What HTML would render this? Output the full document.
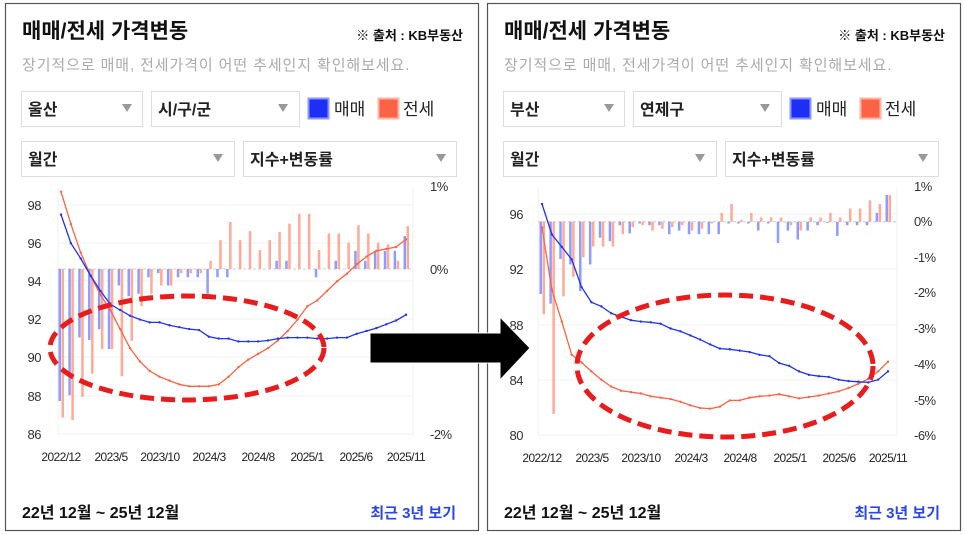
<!DOCTYPE html>
<html><head><meta charset="utf-8"><style>
html,body{margin:0;padding:0;background:#fff;width:965px;height:535px;overflow:hidden}
svg{display:block;font-family:"Liberation Sans","Noto Sans CJK KR",sans-serif}
</style></head><body>
<svg id="s" width="965" height="535" viewBox="0 0 965 535">
<rect x="0" y="0" width="965" height="535" fill="#fff"/>
<rect x="5.5" y="3.5" width="473" height="527" fill="#fff" stroke="#555" stroke-width="1.2"/>
<rect x="487.5" y="3.5" width="473" height="527" fill="#fff" stroke="#555" stroke-width="1.2"/>

<g id="p1">
<text x="22" y="38" font-size="21" font-weight="bold" fill="#111">매매/전세 가격변동</text>
<text x="463" y="40" font-size="13" font-weight="bold" fill="#111" text-anchor="end">※ 출처 : KB부동산</text>
<text x="22" y="70" font-size="15" fill="#aaa" letter-spacing="0.9">장기적으로 매매, 전세가격이 어떤 추세인지 확인해보세요.</text>
<rect x="21.5" y="91.5" width="121" height="35" fill="#fff" stroke="#ddd"/>
<text x="28" y="115" font-size="16" font-weight="bold" fill="#222">울산</text>
<path d="M122 104 L132 104 L127 112Z" fill="#999"/>
<rect x="151.5" y="91.5" width="148" height="35" fill="#fff" stroke="#ddd"/>
<text x="158" y="115" font-size="16" font-weight="bold" fill="#222">시/구/군</text>
<path d="M278 104 L288 104 L283 112Z" fill="#999"/>
<rect x="308.5" y="98.5" width="20" height="20" fill="#1d2ff5" stroke="#8a96ff" stroke-width="2"/>
<text x="334" y="115" font-size="17" fill="#222">매매</text>
<rect x="378.5" y="98.5" width="20" height="20" fill="#fa6344" stroke="#ffb4a5" stroke-width="2"/>
<text x="403" y="115" font-size="17" fill="#222">전세</text>
<rect x="21.5" y="141.5" width="213" height="35" fill="#fff" stroke="#ddd"/>
<text x="28" y="165" font-size="16" font-weight="bold" fill="#222">월간</text>
<path d="M213 154 L223 154 L218 162Z" fill="#999"/>
<rect x="243.5" y="141.5" width="213" height="35" fill="#fff" stroke="#ddd"/>
<text x="250" y="165" font-size="16" font-weight="bold" fill="#222">지수+변동률</text>
<path d="M436 154 L446 154 L441 162Z" fill="#999"/>
<g font-size="13" fill="#333" text-anchor="end" letter-spacing="-0.5">
<text x="41" y="210">98</text><text x="41" y="248">96</text><text x="41" y="286">94</text><text x="41" y="324">92</text><text x="41" y="362">90</text><text x="41" y="401">88</text><text x="41" y="439">86</text>
</g>
<g font-size="13" fill="#333" letter-spacing="-0.5">
<text x="430" y="191">1%</text><text x="430" y="274">0%</text><text x="430" y="439">-2%</text>
</g>
<g font-size="12" fill="#222" text-anchor="middle" letter-spacing="-0.6">
<text x="61" y="461">2022/12</text><text x="111" y="461">2023/5</text><text x="160" y="461">2023/10</text><text x="209" y="461">2024/3</text><text x="258" y="461">2024/8</text><text x="307" y="461">2025/1</text><text x="356" y="461">2025/6</text><text x="406" y="461">2025/11</text>
</g>
<text x="22" y="518" font-size="16" font-weight="bold" fill="#111">22년 12월 ~ 25년 12월</text>
<text x="456" y="518" font-size="15" font-weight="bold" fill="#2b46e6" text-anchor="end">최근 3년 보기</text>
</g>

<g id="p2">
<text x="504" y="38" font-size="21" font-weight="bold" fill="#111">매매/전세 가격변동</text>
<text x="945" y="40" font-size="13" font-weight="bold" fill="#111" text-anchor="end">※ 출처 : KB부동산</text>
<text x="504" y="70" font-size="15" fill="#aaa" letter-spacing="0.9">장기적으로 매매, 전세가격이 어떤 추세인지 확인해보세요.</text>
<rect x="503.5" y="91.5" width="121" height="35" fill="#fff" stroke="#ddd"/>
<text x="510" y="115" font-size="16" font-weight="bold" fill="#222">부산</text>
<path d="M604 104 L614 104 L609 112Z" fill="#999"/>
<rect x="633.5" y="91.5" width="148" height="35" fill="#fff" stroke="#ddd"/>
<text x="640" y="115" font-size="16" font-weight="bold" fill="#222">연제구</text>
<path d="M760 104 L770 104 L765 112Z" fill="#999"/>
<rect x="790.5" y="98.5" width="20" height="20" fill="#1d2ff5" stroke="#8a96ff" stroke-width="2"/>
<text x="816" y="115" font-size="17" fill="#222">매매</text>
<rect x="860.5" y="98.5" width="20" height="20" fill="#fa6344" stroke="#ffb4a5" stroke-width="2"/>
<text x="885" y="115" font-size="17" fill="#222">전세</text>
<rect x="503.5" y="141.5" width="213" height="35" fill="#fff" stroke="#ddd"/>
<text x="510" y="165" font-size="16" font-weight="bold" fill="#222">월간</text>
<path d="M695 154 L705 154 L700 162Z" fill="#999"/>
<rect x="725.5" y="141.5" width="213" height="35" fill="#fff" stroke="#ddd"/>
<text x="732" y="165" font-size="16" font-weight="bold" fill="#222">지수+변동률</text>
<path d="M918 154 L928 154 L923 162Z" fill="#999"/>
<g font-size="13" fill="#333" text-anchor="end" letter-spacing="-0.5">
<text x="523" y="219">96</text><text x="523" y="274">92</text><text x="523" y="330">88</text><text x="523" y="385">84</text><text x="523" y="440">80</text>
</g>
<g font-size="13" fill="#333" letter-spacing="-0.5">
<text x="914" y="191">1%</text><text x="914" y="226">0%</text><text x="914" y="262">-1%</text><text x="914" y="297">-2%</text><text x="914" y="333">-3%</text><text x="914" y="369">-4%</text><text x="914" y="405">-5%</text><text x="914" y="440">-6%</text>
</g>
<g font-size="12" fill="#222" text-anchor="middle" letter-spacing="-0.6">
<text x="542" y="462">2022/12</text><text x="592" y="462">2023/5</text><text x="641" y="462">2023/10</text><text x="691" y="462">2024/3</text><text x="740" y="462">2024/8</text><text x="790" y="462">2025/1</text><text x="839" y="462">2025/6</text><text x="888" y="462">2025/11</text>
</g>
<text x="504" y="518" font-size="16" font-weight="bold" fill="#111">22년 12월 ~ 25년 12월</text>
<text x="940" y="518" font-size="15" font-weight="bold" fill="#2b46e6" text-anchor="end">최근 3년 보기</text>
</g>
<g id="charts"></g>
<g id="over">
<ellipse cx="187" cy="348" rx="137" ry="52" fill="none" stroke="#e81c1c" stroke-width="5" stroke-dasharray="14 7"/>
<ellipse cx="725" cy="366" rx="148" ry="71" fill="none" stroke="#e81c1c" stroke-width="5" stroke-dasharray="14 7"/>
<polygon points="370,333 500,333 500,317 530,348 500,380 500,363 370,363" fill="#000" stroke="#fff" stroke-width="1"/>
</g>
</svg>
<script>
var NS="http://www.w3.org/2000/svg",G=document.getElementById("charts");
function el(t,a){var e=document.createElementNS(NS,t);for(var k in a)e.setAttribute(k,a[k]);G.appendChild(e);return e;}
function chart(c){
 c.grid.forEach(function(y){el("line",{x1:c.px0,x2:c.px1,y1:y,y2:y,stroke:"#f0f0f0","stroke-width":1});});
 el("line",{x1:c.px0,x2:c.px0,y1:c.py0,y2:c.py1,stroke:"#f0f0f0"});
 el("line",{x1:c.px1,x2:c.px1,y1:c.py0,y2:c.py1,stroke:"#f0f0f0"});
 el("line",{x1:c.px0,x2:c.px1,y1:c.z,y2:c.z,stroke:"#ccc","stroke-dasharray":"3 2"});
 for(var i=0;i<36;i++){
  var x=c.x0+c.dx*i;
  var b=c.bb[i],o=c.bo[i];
  var yb=c.z-b*c.pp,yo=c.z-o*c.pp;
  el("rect",{x:x-2.5,y:Math.min(yb,c.z),width:2.5,height:Math.abs(yb-c.z),fill:"#8f9cff"});
  el("rect",{x:x+0.5,y:Math.min(yo,c.z),width:2.5,height:Math.abs(yo-c.z),fill:"#ffaa98"});
 }
 [[c.lo,"#fa6344"],[c.lb,"#2233ee"]].forEach(function(s){
  var d="";s[0].forEach(function(v,i){d+=(i?"L":"M")+(c.x0+c.dx*i).toFixed(1)+" "+(c.vy(v)).toFixed(1);});
  el("path",{d:d,fill:"none",stroke:s[1],"stroke-width":1.3});
  s[0].forEach(function(v,i){el("circle",{cx:c.x0+c.dx*i,cy:c.vy(v),r:1.2,fill:s[1]});});
 });
}
chart({px0:58,px1:413,py0:188,py1:435,grid:[205,243,281,319,357,396,434],z:269,pp:82.5,x0:61,dx:9.857,
 vy:function(v){return 434-(v-86)*19.08;},
 lb:[97.5,96.0,95.2,94.3,93.5,92.8,92.5,92.2,92.0,91.85,91.85,91.7,91.6,91.5,91.45,91.1,91.0,91.0,90.85,90.85,90.85,90.9,91.0,91.05,91.05,91.05,91.0,91.0,91.05,91.05,91.25,91.4,91.55,91.75,91.95,92.25],
 lo:[98.7,97.0,95.5,94.3,93.3,92.5,91.5,90.5,89.8,89.3,89.0,88.8,88.6,88.5,88.5,88.5,88.6,89.0,89.5,89.9,90.2,90.5,90.9,91.4,92.0,92.7,93.0,93.5,94.0,94.4,94.9,95.3,95.6,95.7,95.8,96.2],
 bb:[-1.6,-1.53,-0.83,-0.86,-0.73,-0.97,-0.2,-0.33,-0.3,-0.1,-0.05,-0.2,-0.1,-0.1,-0.1,-0.3,-0.1,-0.1,0,0,0,0,0.1,0.1,0,0,-0.1,0,0.1,0,0.22,0.1,0.22,0.22,0.22,0.4],
 bo:[-1.8,-1.83,-1.55,-1.27,-0.97,-0.97,-1.3,-0.87,-0.45,-0.3,-0.2,-0.2,-0.05,-0.05,-0.05,0.1,0.35,0.57,0.35,0.46,0.23,0.35,0.45,0.55,0.67,0.67,0.23,0.43,0.43,0.32,0.53,0.43,0.32,0.3,0.1,0.52]});
chart({px0:538,px1:897,py0:188,py1:435,grid:[214,269,325,380,435],z:221.7,pp:35.6,x0:542,dx:9.886,
 vy:function(v){return 435-(v-80)*13.83;},
 lb:[96.7,94.5,93.6,92.7,90.7,89.6,89.3,88.8,88.55,88.3,88.2,88.15,88.05,87.7,87.5,87.2,86.9,86.55,86.25,86.2,86.1,86.0,85.8,85.7,85.2,85.0,84.6,84.35,84.25,84.2,84.0,83.9,83.85,83.8,84.0,84.6],
 lo:[95.0,90.5,88.2,85.8,85.25,84.6,84.0,83.5,83.2,83.1,83.0,82.8,82.7,82.6,82.4,82.15,81.95,81.9,82.05,82.5,82.5,82.7,82.8,82.85,82.95,82.8,82.65,82.75,82.85,83.0,83.15,83.4,83.7,84.05,84.6,85.3],
 bb:[-2.03,-2.3,-1.05,-1.2,-1.95,-1.2,-0.45,-0.55,-0.1,-0.33,-0.05,-0.1,-0.1,-0.35,-0.25,-0.35,-0.35,-0.35,-0.35,-0.05,-0.05,-0.05,-0.25,-0.05,-0.6,-0.25,-0.5,-0.25,-0.1,-0.03,-0.4,-0.1,-0.1,-0.1,0.25,0.75],
 bo:[-2.6,-5.4,-2.1,-1.55,-1.0,-0.7,-0.7,-0.7,-0.35,-0.15,-0.1,-0.25,-0.2,-0.15,-0.1,-0.25,-0.2,-0.05,0.25,0.5,0.05,0.25,0.12,0.12,0.12,-0.1,-0.25,0.12,0.12,0.25,0.12,0.37,0.37,0.6,0.5,0.75]});
</script>
</body></html>
